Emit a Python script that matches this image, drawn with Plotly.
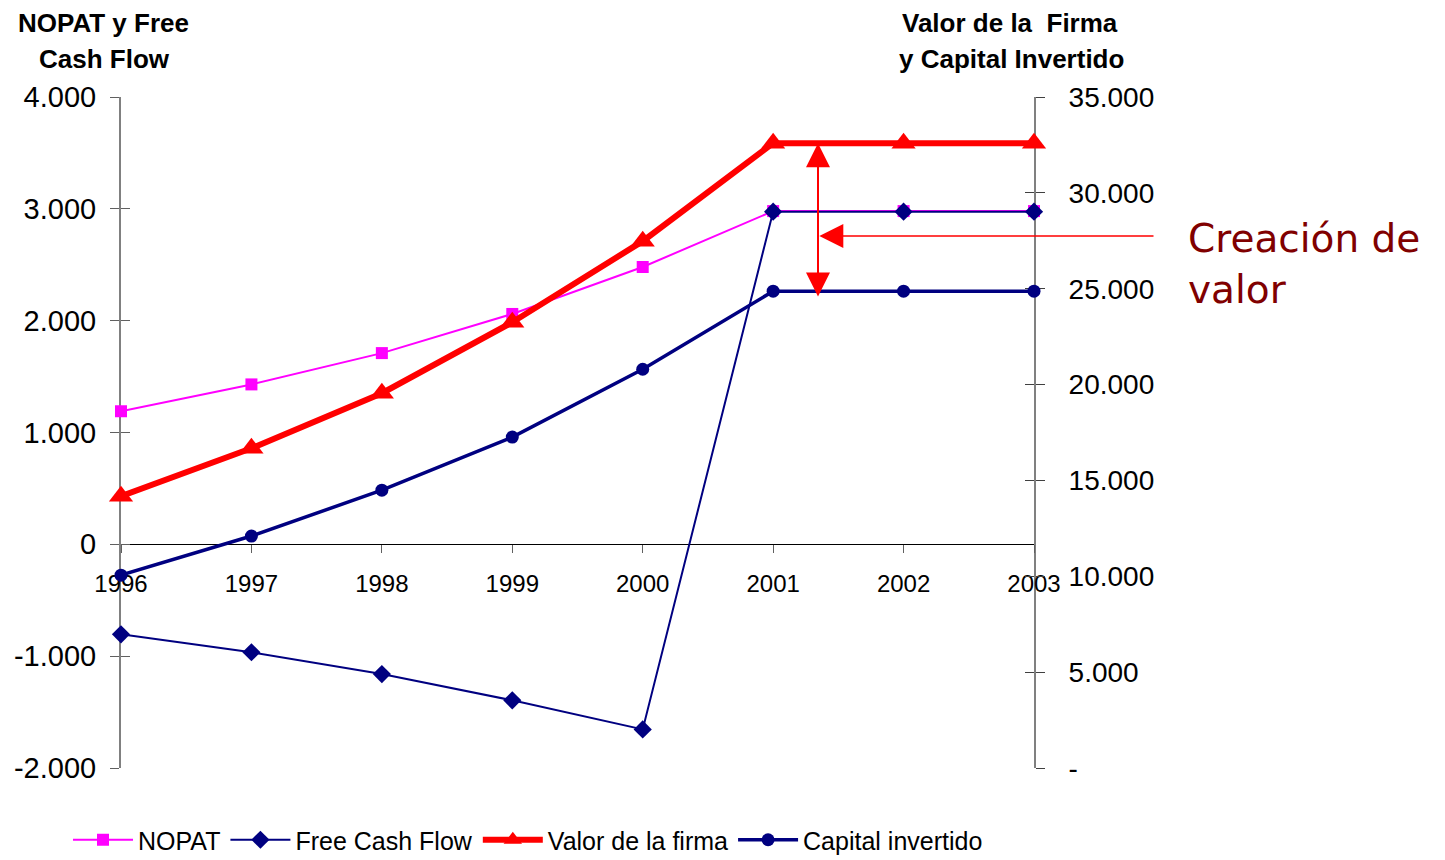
import plotly.graph_objects as go

years = [1996, 1997, 1998, 1999, 2000, 2001, 2002, 2003]
nopat = [1190, 1430, 1710, 2060, 2480, 2980, 2980, 2980]
free_cash_flow = [-805, -965, -1160, -1395, -1655, 2975, 2975, 2975]
valor_firma = [14180, 16680, 19550, 23250, 27480, 32590, 32590, 32590]
capital_invertido = [10060, 12100, 14490, 17260, 20800, 24870, 24870, 24870]

left_tickvals = [-2000, -1000, 0, 1000, 2000, 3000, 4000]
left_ticktext = ["-2.000", "-1.000", "0", "1.000", "2.000", "3.000", "4.000"]
right_tickvals = [0, 5000, 10000, 15000, 20000, 25000, 30000, 35000]
right_ticktext = ["-", "5.000", "10.000", "15.000", "20.000", "25.000", "30.000", "35.000"]
year_labels = [str(y) for y in years]

FONT = "Liberation Sans, Arial, sans-serif"
OFF = 8  # page body margin
W, H = 1445 - OFF, 860 - OFF
L, T = 121 - OFF, 97 - OFF
R = W - (1034 - OFF)
B = H - (768 - OFF)
PW, PH = W - L - R, H - T - B

def px_x(px):
    return (px - OFF - L) / PW

def px_y(py):
    return (H - B - (py - OFF)) / PH

fig = go.Figure()

fig.add_trace(go.Scatter(x=years, y=nopat, name="NOPAT", mode="lines+markers",
                         line=dict(color="#FF00FF", width=2),
                         marker=dict(symbol="square", size=12, color="#FF00FF"),
                         cliponaxis=False, yaxis="y"))
fig.add_trace(go.Scatter(x=years, y=free_cash_flow, name="Free Cash Flow", mode="lines+markers",
                         line=dict(color="#000080", width=2),
                         marker=dict(symbol="diamond", size=14, color="#000080"),
                         cliponaxis=False, yaxis="y"))
fig.add_trace(go.Scatter(x=years, y=valor_firma, name="Valor de la firma", mode="lines+markers",
                         line=dict(color="#FF0000", width=6),
                         marker=dict(symbol="triangle-up", size=21, color="#FF0000"),
                         cliponaxis=False, yaxis="y2"))
fig.add_trace(go.Scatter(x=years, y=capital_invertido, name="Capital invertido", mode="lines+markers",
                         line=dict(color="#000080", width=3.5),
                         marker=dict(symbol="circle", size=13, color="#000080"),
                         cliponaxis=False, yaxis="y2"))
# helper traces so the tick-crossing overlay axes are drawn
fig.add_trace(go.Scatter(x=[], y=[], yaxis="y3", showlegend=False, hoverinfo="skip"))
fig.add_trace(go.Scatter(x=[], y=[], yaxis="y4", showlegend=False, hoverinfo="skip"))

fig.update_layout(
    width=W, height=H,
    margin=dict(l=L, r=R, t=T, b=B, pad=0, autoexpand=False),
    paper_bgcolor="white", plot_bgcolor="white",
    font=dict(family=FONT, color="black"),
    showlegend=True,
    legend=dict(orientation="h", x=px_x(68), xanchor="left", y=px_y(840), yanchor="middle",
                font=dict(size=25, family=FONT), itemwidth=60, tracegroupgap=0,
                bgcolor="rgba(0,0,0,0)"),
    xaxis=dict(range=[1996, 2003], anchor="free", position=1/3, showgrid=False, zeroline=False,
               showline=True, linecolor="black", linewidth=1,
               ticks="outside", ticklen=8, tickcolor="#606060", tickwidth=1,
               tickvals=years, ticktext=year_labels, tickfont=dict(size=24),
               ticklabelstandoff=10, layer="below traces", fixedrange=True),
    yaxis=dict(range=[-2000, 4000], showgrid=False, zeroline=False,
               showline=True, linecolor="#808080", linewidth=2,
               ticks="outside", ticklen=9, tickcolor="#606060", tickwidth=1,
               tickvals=left_tickvals, ticktext=left_ticktext, tickfont=dict(size=29),
               ticklabelstandoff=8, layer="below traces", anchor="x"),
    yaxis2=dict(range=[0, 35000], overlaying="y", side="right", anchor="x", showgrid=False, zeroline=False,
                showline=True, linecolor="#808080", linewidth=2,
                ticks="outside", ticklen=9, tickcolor="#404040", tickwidth=1,
                tickvals=right_tickvals, ticktext=right_ticktext, tickfont=dict(size=28),
                ticklabelstandoff=18, layer="below traces"),
    yaxis3=dict(range=[-2000, 4000], overlaying="y", side="left", anchor="x", showgrid=False,
                zeroline=False, showline=False, ticks="inside", ticklen=9, tickcolor="#606060",
                tickwidth=1, tickvals=left_tickvals, showticklabels=False, layer="below traces"),
    yaxis4=dict(range=[0, 35000], overlaying="y", side="right", anchor="x", showgrid=False,
                zeroline=False, showline=False, ticks="inside", ticklen=9, tickcolor="#404040",
                tickwidth=1, tickvals=right_tickvals, showticklabels=False, layer="below traces"),
)

title_font = dict(family=FONT, size=26, color="black")
annotations = [
    dict(text="<b>NOPAT y Free</b>", x=px_x(103), y=px_y(23), xref="paper", yref="paper",
         xanchor="center", yanchor="middle", showarrow=False, font=title_font),
    dict(text="<b>Cash Flow</b>", x=px_x(104), y=px_y(59), xref="paper", yref="paper",
         xanchor="center", yanchor="middle", showarrow=False, font=title_font),
    dict(text="<b>Valor de la  Firma</b>", x=px_x(1010), y=px_y(23), xref="paper", yref="paper",
         xanchor="center", yanchor="middle", showarrow=False, font=title_font),
    dict(text="<b>y Capital Invertido</b>", x=px_x(1011), y=px_y(59), xref="paper", yref="paper",
         xanchor="center", yanchor="middle", showarrow=False, font=title_font),
    dict(text="Creación de<br>valor", x=px_x(1186), y=px_y(214), xref="paper", yref="paper",
         xanchor="left", yanchor="top", align="left", showarrow=False,
         font=dict(family="DejaVu Sans, Verdana, sans-serif", size=39, color="#800000")),
]

# vertical double arrow between firm value and invested capital in 2001+
arrow_x = 1996 + (818 - 121) / (PW / 7)
annotations.append(dict(x=arrow_x, y=valor_firma[5], xref="x", yref="y2",
                        ax=arrow_x, ay=capital_invertido[5] - 350, axref="x", ayref="y2",
                        text="", showarrow=True, arrowhead=2, startarrowhead=2, arrowside="end+start",
                        arrowsize=2.4, startarrowsize=2.4, arrowwidth=2, arrowcolor="#FF0000"))
# horizontal arrow from label
tail_x = 1996 + (1155 - 121) / (PW / 7)
mid_val = (768 - 236) / PH * 35000
annotations.append(dict(x=arrow_x + 0.01, y=mid_val, xref="x", yref="y2",
                        ax=tail_x, ay=mid_val, axref="x", ayref="y2",
                        text="", showarrow=True, arrowhead=2, arrowsize=3.2, arrowwidth=1.5,
                        arrowcolor="#FF0000"))
fig.update_layout(annotations=annotations)

fig.write_html("out.html")
